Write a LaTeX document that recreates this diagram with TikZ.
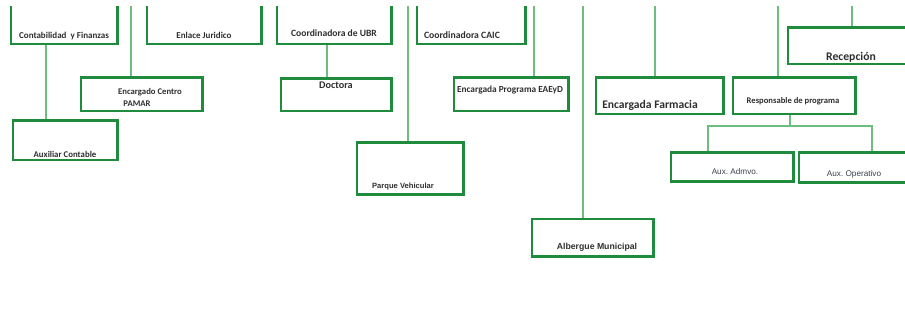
\documentclass[tikz,border=0pt]{standalone}
\usepackage{fontspec}
\setmainfont{Carlito}
\newfontfamily\arialf{Liberation Sans}
\usetikzlibrary{fit}
\frenchspacing
\definecolor{boxg}{HTML}{1E8C3C}
\definecolor{lineg}{HTML}{6DBE7E}
\definecolor{txt}{HTML}{2E2E2E}
\definecolor{txtb}{HTML}{3A4050}
\newcommand\fs[1]{\fontsize{#1}{#1}\selectfont}
\begin{document}
\begin{tikzpicture}[x=1pt,y=-1pt,
  box/.style={inner sep=0pt},
  boxline/.style={draw=boxg,line width=2.6pt},
  conn/.style={draw=lineg,line width=1.8pt},
  lbl/.style={text=txt,inner sep=0pt,font=\bfseries},
  albl/.style={text=txt,inner sep=0pt,font=\arialf\bfseries},
  nlbl/.style={text=txtb,inner sep=0pt,font=\arialf}]
\useasboundingbox (0,0) rectangle (905,326);
\begin{scope}
\clip (0,7) rectangle (905,326);
% boxes
\node[box,fit={(11,-5)(117,44)}] (contab) {};
\node[box,fit={(13,121)(117,160)}] (aux) {};
\node[box,fit={(81,78)(202,111)}] (pamar) {};
\node[box,fit={(147,-5)(261,44)}] (enlace) {};
\node[box,fit={(277,-5)(391,44)}] (ubr) {};
\node[box,fit={(281,79)(391,111)}] (doctora) {};
\node[box,fit={(357,143)(463,194)}] (parque) {};
\node[box,fit={(417,-5)(525,44)}] (caic) {};
\node[box,fit={(454,78)(568,111)}] (eaeyd) {};
\node[box,fit={(532,219)(653,256)}] (albergue) {};
\node[box,fit={(596,78)(723,114)}] (farmacia) {};
\node[box,fit={(733,78)(855,114)}] (resp) {};
\node[box,fit={(788,28)(920,64)}] (recep) {};
\node[box,fit={(671,153)(793,181)}] (admvo) {};
\node[box,fit={(799,153)(920,182)}] (operativo) {};
% connectors
\coordinate (c1) at (46,0);
\coordinate (c2) at (131,0);
\coordinate (c3) at (327,0);
\coordinate (c4) at (408,0);
\coordinate (c5) at (534,0);
\coordinate (c6) at (583,0);
\coordinate (c7) at (655,0);
\coordinate (c8) at (778,0);
\coordinate (c9) at (852,0);
\coordinate (cr) at (790,0);
\coordinate (bus) at (0,126);
\coordinate (ca) at (708,0);
\coordinate (cb) at (872,0);
\draw[conn] (contab.south -| c1) -- (aux.north -| c1);
\draw[conn] (c2) -- (pamar.north -| c2);
\draw[conn] (ubr.south -| c3) -- (doctora.north -| c3);
\draw[conn] (c4) -- (parque.north -| c4);
\draw[conn] (c5) -- (eaeyd.north -| c5);
\draw[conn] (c6) -- (albergue.north -| c6);
\draw[conn] (c7) -- (farmacia.north -| c7);
\draw[conn] (c8) -- (resp.north -| c8);
\draw[conn] (c9) -- (recep.north -| c9);
\draw[conn] (resp.south -| cr) -- (bus -| cr);
\draw[conn] (admvo.north -| ca) -- (bus -| ca) -- (bus -| cb) -- (operativo.north -| cb);
% box outlines
\foreach \n in {contab,aux,pamar,enlace,ubr,doctora,parque,caic,eaeyd,albergue,farmacia,resp,recep,admvo,operativo}
  \draw[boxline] (\n.north west) rectangle (\n.south east);
% labels
\node[lbl,font=\bfseries\fs{9}] (tcontab) at (64,36) {Contabilidad\ \ y Finanzas};
\node[lbl,font=\bfseries\fs{8.8}] (taux) at (65,154) {Auxiliar Contable};
\node[lbl,font=\bfseries\fs{8.7}] (tpamar1) at (150,92) {Encargado Centro};
\node[lbl,font=\bfseries\fs{8.7}] (tpamar2) at (137,104) {PAMAR};
\node[lbl,font=\bfseries\fs{9}] (tenlace) at (204,35) {Enlace Juridico};
\node[lbl,font=\bfseries\fs{9.6}] (tubr) at (334,33) {Coordinadora de UBR};
\node[lbl,font=\bfseries\fs{10.2}] (tdoc) at (336,85) {Doctora};
\node[lbl,font=\bfseries\fs{9.7}] (tcaic) at (462,35) {Coordinadora CAIC};
\node[lbl,font=\bfseries\fs{9.3}] (teaeyd) at (510,90) {Encargada Programa EAEyD};
\node[albl,font=\arialf\bfseries\fs{7.6}] (tparque) at (403,187) {Parque Vehicular};
\node[albl,font=\arialf\bfseries\fs{8.7}] (talb) at (597,247) {Albergue Municipal};
\node[lbl,font=\bfseries\fs{11.6}] (tfarm) at (650,105) {Encargada Farmacia};
\node[lbl,font=\bfseries\fs{8.6}] (tresp) at (793,101) {Responsable de programa};
\node[lbl,font=\bfseries\fs{11.7}] (trecep) at (851,57) {Recepción};
\node[nlbl,font=\arialf\fs{8.2}] (tadm) at (735,172) {Aux. Admvo.};
\node[nlbl,font=\arialf\fs{8.2}] (tope) at (854,174) {Aux. Operativo};
\end{scope}
\end{tikzpicture}
\end{document}
